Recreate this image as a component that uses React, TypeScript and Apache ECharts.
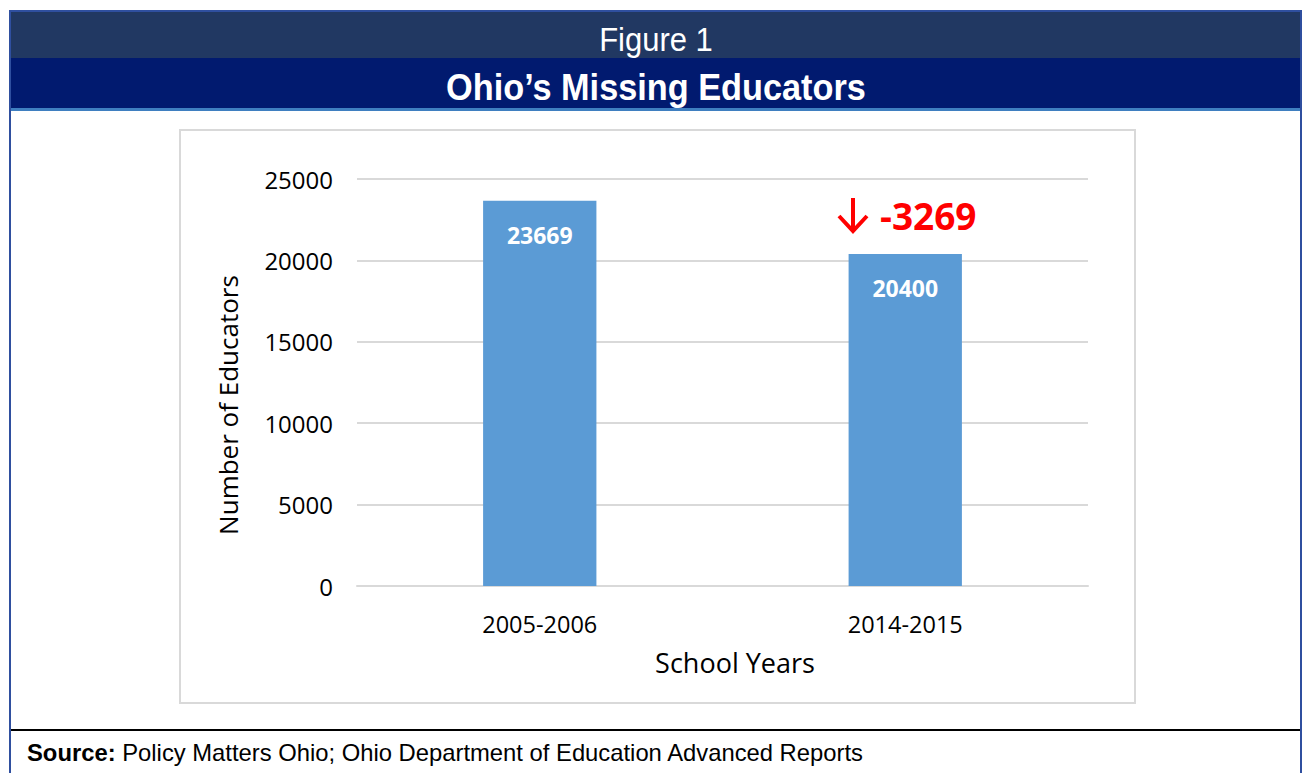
import React, { useEffect, useRef } from "react";
import * as echarts from "echarts";

const categories: string[] = ["2005-2006", "2014-2015"];
const educators: number[] = [23669, 20400];
const yTicks = { min: 0, max: 25000, interval: 5000 };
const figureLabel = "Figure 1";
const title = "Ohio’s Missing Educators";
const yName = "Number of Educators";
const xName = "School Years";
const sourceBold = "Source:";
const sourceText = " Policy Matters Ohio; Ohio Department of Education Advanced Reports";

export default function App() {
  const ref = useRef<HTMLDivElement>(null);
  useEffect(() => {
    document.body.style.margin = "0";
    const chart = echarts.init(ref.current!, null, { renderer: "svg" });
    const change = educators[1] - educators[0];
    const body = "'Open Sans', 'Noto Sans', sans-serif";
    const arial = "'Liberation Sans', Arial, sans-serif";
    const red = "#ff0000";
    chart.setOption({
      animation: false,
      backgroundColor: "#ffffff",
      grid: { left: 357, right: 216, top: 179, bottom: 187 },
      xAxis: {
        type: "category",
        data: categories,
        axisLine: { lineStyle: { color: "#d9d9d9", width: 2 } },
        axisTick: { show: false },
        axisLabel: { color: "#000", fontFamily: body, fontSize: 23.5, margin: 26 },
      },
      yAxis: {
        type: "value",
        min: yTicks.min,
        max: yTicks.max,
        interval: yTicks.interval,
        axisLine: { show: false },
        axisTick: { show: false },
        splitLine: { lineStyle: { color: "#d9d9d9", width: 2 } },
        axisLabel: { color: "#000", fontFamily: body, fontSize: 24, margin: 24, formatter: (v: number) => String(v) },
      },
      series: [
        {
          type: "bar",
          data: educators,
          barWidth: "31%",
          itemStyle: { color: "#5b9bd5" },
          label: {
            show: true,
            position: "insideTop",
            distance: 23,
            color: "#ffffff",
            fontFamily: body,
            fontWeight: "bold",
            fontSize: 23,
          },
        },
      ],
      graphic: [
        { type: "rect", shape: { x: 10, y: 11, width: 1291, height: 780 }, style: { fill: "none", stroke: "#2f4f9f", lineWidth: 2 }, z: 10 },
        { type: "rect", shape: { x: 11, y: 12, width: 1289, height: 46 }, style: { fill: "#213862" }, z: 5 },
        { type: "rect", shape: { x: 11, y: 58, width: 1289, height: 50 }, style: { fill: "#011a6f" }, z: 5 },
        { type: "rect", shape: { x: 11, y: 108, width: 1289, height: 3 }, style: { fill: "#3f7fc0" }, z: 5 },
        { type: "text", x: 656, y: 40, scaleY: 1.05, style: { text: figureLabel, fill: "#fff", font: `31px ${arial}`, textAlign: "center", textVerticalAlign: "middle" }, z: 6 },
        { type: "text", x: 656, y: 88, scaleY: 1.08, style: { text: title, fill: "#fff", font: `bold 34.3px ${arial}`, textAlign: "center", textVerticalAlign: "middle" }, z: 6 },
        { type: "rect", shape: { x: 180, y: 130, width: 955, height: 573 }, style: { fill: "none", stroke: "#d9d9d9", lineWidth: 2 } },
        { type: "text", x: 228, y: 405, rotation: Math.PI / 2, style: { text: yName, fill: "#000", font: `26px ${body}`, textAlign: "center", textVerticalAlign: "middle" } },
        { type: "text", x: 735, y: 662, style: { text: xName, fill: "#000", font: `27px ${body}`, textAlign: "center", textVerticalAlign: "middle" } },
        { type: "line", shape: { x1: 853, y1: 198, x2: 853, y2: 230 }, style: { stroke: red, lineWidth: 4 } },
        { type: "polyline", shape: { points: [[839, 216], [853, 231], [867, 216]] }, style: { stroke: red, lineWidth: 4, fill: "none" } },
        { type: "text", x: 880, y: 215, style: { text: String(change), fill: red, font: `bold 37px ${body}`, textAlign: "left", textVerticalAlign: "middle" } },
        { type: "line", shape: { x1: 11, y1: 730, x2: 1300, y2: 730 }, style: { stroke: "#000", lineWidth: 2 } },
        {
          type: "text",
          x: 27,
          y: 752,
          style: {
            text: `{b|${sourceBold}}{n|${sourceText}}`,
            textVerticalAlign: "middle",
            rich: {
              b: { font: `bold 23.8px ${arial}`, fill: "#000" },
              n: { font: `23.8px ${arial}`, fill: "#000" },
            },
          },
        },
      ],
    });
    return () => chart.dispose();
  }, []);
  return <div ref={ref} style={{ width: 1304, height: 773 }} />;
}
